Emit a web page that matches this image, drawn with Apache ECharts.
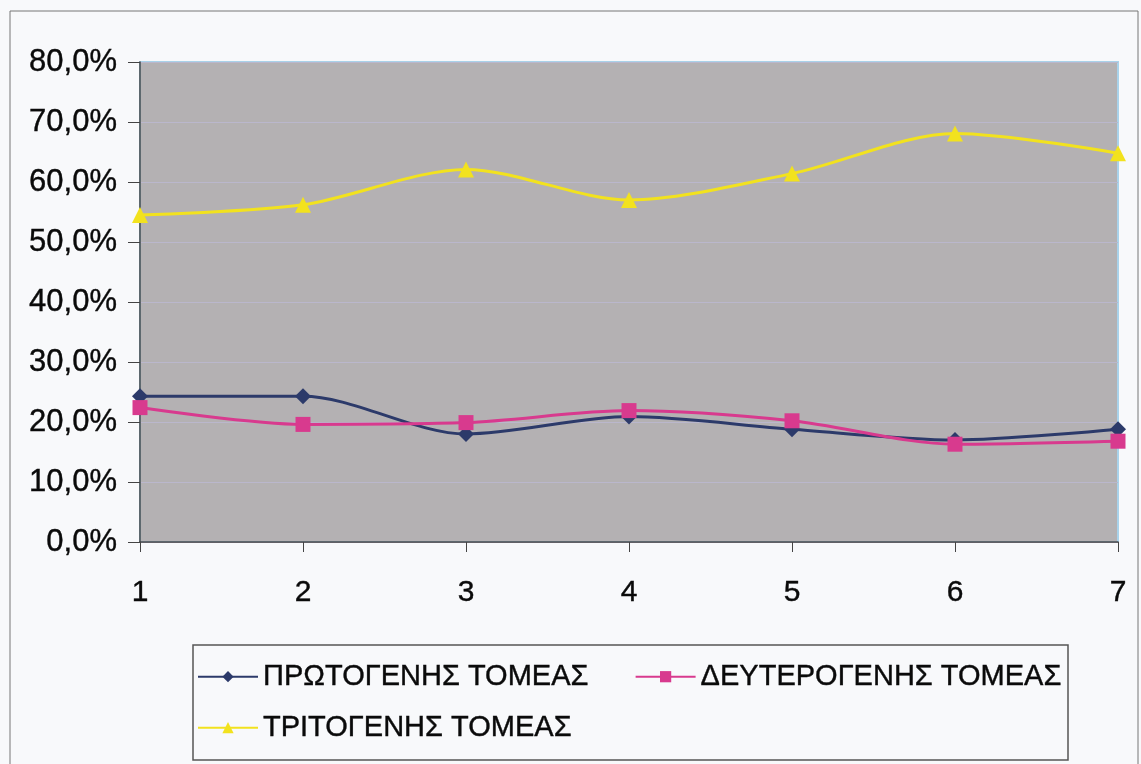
<!DOCTYPE html>
<html>
<head>
<meta charset="utf-8">
<style>
html,body{margin:0;padding:0;background:#f8f9fb;}
#chart{width:1141px;height:764px;}
</style>
<script src="https://cdn.jsdelivr.net/npm/echarts@6/dist/echarts.min.js"></script>
</head>
<body>
<div id="chart"></div>
<script>
const categories = ['1','2','3','4','5','6','7'];
const primary = [24.3, 24.3, 18.0, 20.9, 18.8, 17.0, 18.8];
const secondary = [22.4, 19.6, 19.9, 21.9, 20.2, 16.3, 16.8];
const tertiary = [54.5, 56.2, 62.1, 57.0, 61.4, 68.1, 64.8];
const seriesNames = ['ΠΡΩΤΟΓΕΝΗΣ ΤΟΜΕΑΣ', 'ΔΕΥΤΕΡΟΓΕΝΗΣ ΤΟΜΕΑΣ', 'ΤΡΙΤΟΓΕΝΗΣ ΤΟΜΕΑΣ'];

const font = 'Liberation Sans, Arial, sans-serif';
const chart = echarts.init(document.getElementById('chart'));
const legendText = {fontFamily: font, fontSize: 29, color: '#0a0a0a', textBorderColor: '#0a0a0a', textBorderWidth: 0.4};
chart.setOption({
  backgroundColor: '#f8f9fb',
  animation: false,
  graphic: [
    {type: 'rect', shape: {x: 10, y: 11, width: 1128, height: 770}, style: {fill: 'none', stroke: '#777', lineWidth: 1}, silent: true},
    {type: 'rect', shape: {x: 193, y: 645, width: 875, height: 115}, style: {fill: 'none', stroke: '#555', lineWidth: 1.5}, silent: true}
  ],
  grid: {left: 140, top: 62, right: 23, bottom: 222, show: true, backgroundColor: '#b4b1b3', borderColor: '#a9d2ea', borderWidth: 2, containLabel: false},
  legend: [
    {data: [seriesNames[0], seriesNames[1]], left: 197, top: 662, itemGap: 46, itemWidth: 60, itemHeight: 14, textStyle: legendText, padding: 0},
    {data: [seriesNames[2]], left: 197, top: 713, itemGap: 46, itemWidth: 60, itemHeight: 14, textStyle: legendText, padding: 0}
  ],
  xAxis: {
    type: 'category', data: categories, boundaryGap: false,
    axisLine: {lineStyle: {color: '#444', width: 1.5}},
    axisTick: {show: true, length: 10, alignWithLabel: true, lineStyle: {color: '#444'}},
    axisLabel: {fontFamily: font, fontSize: 30, color: '#0a0a0a', textBorderColor: '#0a0a0a', textBorderWidth: 0.4, margin: 36},
    splitLine: {show: false}
  },
  yAxis: {
    type: 'value', min: 0, max: 80, interval: 10,
    axisLine: {show: true, lineStyle: {color: '#444', width: 1.5}},
    axisTick: {show: true, length: 12, lineStyle: {color: '#444'}},
    axisLabel: {fontFamily: font, fontSize: 31, color: '#0a0a0a', textBorderColor: '#0a0a0a', textBorderWidth: 0.4, margin: 23,
      formatter: v => v.toFixed(1).replace('.', ',') + '%'},
    splitLine: {show: true, lineStyle: {color: '#bab7cc', width: 1}}
  },
  series: [
    {name: seriesNames[0], type: 'line', data: primary, smooth: 0.3, symbol: 'diamond', symbolSize: 16,
      itemStyle: {color: '#2c3a6a'}, lineStyle: {color: '#2c3a6a', width: 3}},
    {name: seriesNames[1], type: 'line', data: secondary, smooth: 0.3, symbol: 'rect', symbolSize: 15,
      itemStyle: {color: '#d83a8e'}, lineStyle: {color: '#d83a8e', width: 3}},
    {name: seriesNames[2], type: 'line', data: tertiary, smooth: 0.3, symbol: 'triangle', symbolSize: 16,
      itemStyle: {color: '#f2e21e'}, lineStyle: {color: '#f2e21e', width: 3}}
  ]
});
</script>
</body>
</html>
